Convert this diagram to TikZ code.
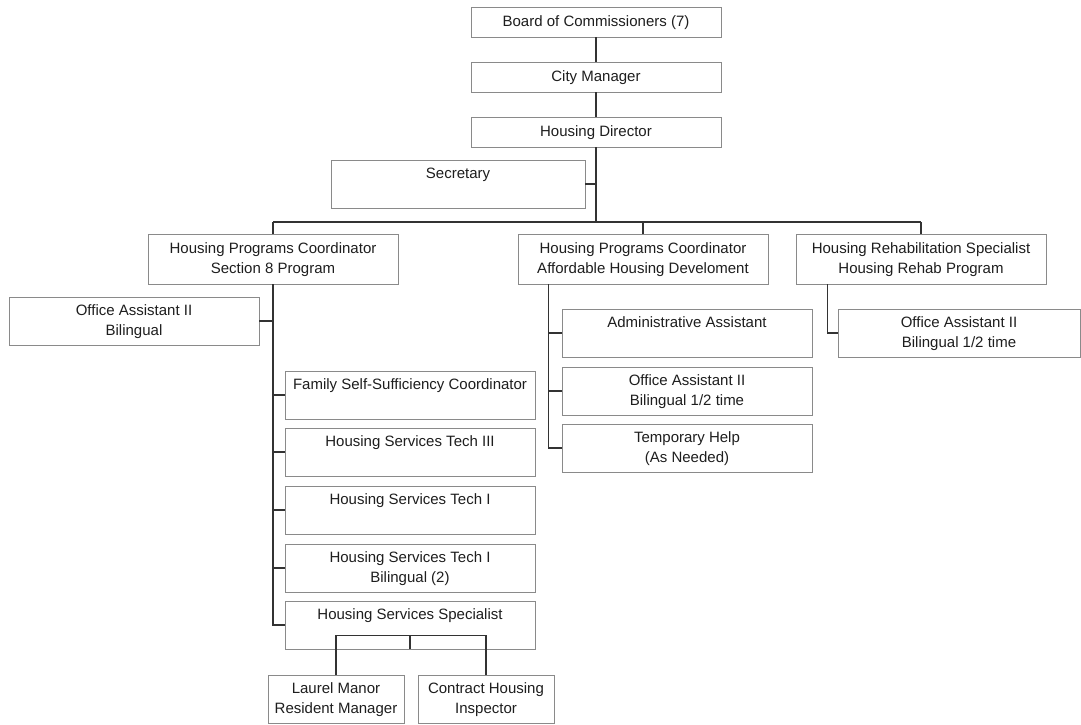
\documentclass[tikz,border=0pt]{standalone}
\usepackage{fontspec}
\setmainfont{Liberation Sans}
\definecolor{boxline}{HTML}{8A8A8A}
\definecolor{conn}{HTML}{333333}
\definecolor{txt}{HTML}{1E1E1E}
\newcommand{\tl}[2]{\strut #1\\\strut #2}
\begin{document}
\begin{tikzpicture}[x=1pt,y=-1pt,
  box/.style={draw=boxline, line width=0.9pt, fill=white, align=center, inner sep=0pt,
    text=txt, font=\fontsize{15}{20}\selectfont, minimum width=#1},
  box/.default=250pt,
  sh/.style={minimum height=30pt},
  th/.style={minimum height=48pt},
  link/.style={draw=conn, line width=1.2pt}]
\useasboundingbox (0,0) rectangle (1081,724);
\fill[white] (0,0) rectangle (1081,724);

% top chain
\node[box=250pt, sh] (board) at (596,22) {\strut Board of Commissioners (7)};
\node[box=250pt, sh] (city) at (596,77) {\strut City Manager};
\node[box=250pt, sh] (dir) at (596,132) {\strut Housing Director};
\node[box=254pt, th] (sec) at (458,184) {\tl{Secretary}{}};

% level 2
\node[box=250pt, minimum height=50pt] (hpc1) at (273,259) {\tl{Housing Programs Coordinator}{Section 8 Program}};
\node[box=250pt, minimum height=50pt] (hpc2) at (643,259) {\tl{Housing Programs Coordinator}{Affordable Housing Develoment}};
\node[box=250pt, minimum height=50pt] (hrs) at (921,259) {\tl{Housing Rehabilitation Specialist}{Housing Rehab Program}};

% section 8 branch
\node[box=250pt, th] (oa1) at (134,321) {\tl{Office Assistant II}{Bilingual}};
\node[box=250pt, th] (fss) at (410,395) {\tl{Family Self-Sufficiency Coordinator}{}};
\node[box=250pt, th] (hst3) at (410,452) {\tl{Housing Services Tech III}{}};
\node[box=250pt, th] (hst1) at (410,510) {\tl{Housing Services Tech I}{}};
\node[box=250pt, th] (hst1b) at (410,568) {\tl{Housing Services Tech I}{Bilingual (2)}};
\node[box=250pt, th] (hss) at (410,625) {\tl{Housing Services Specialist}{}};
\node[box=136pt, th] (laurel) at (336,699) {\tl{Laurel Manor}{Resident Manager}};
\node[box=136pt, th] (contract) at (486,699) {\tl{Contract Housing}{Inspector}};

% affordable housing branch
\node[box=250pt, th] (aa) at (687,333) {\tl{Administrative Assistant}{}};
\node[box=250pt, th] (oa2) at (687,391) {\tl{Office Assistant II}{Bilingual 1/2 time}};
\node[box=250pt, th] (temp) at (687,448) {\tl{Temporary Help}{(As Needed)}};

% rehab branch
\node[box=242pt, th] (oa3) at (959,333) {\tl{Office Assistant II}{Bilingual 1/2 time}};

% connectors: top
\draw[link] (board.south) -- (city.north);
\draw[link] (city.south) -- (dir.north);
\coordinate (bus) at (596,222);
\draw[link] (dir.south) -- (bus);
\draw[link] (sec.east) -- (sec.east -| dir.south);
\draw[link] (bus -| hpc1.north) -- (bus -| hrs.north);
\draw[link] (bus -| hpc1.north) -- (hpc1.north);
\draw[link] (bus -| hpc2.north) -- (hpc2.north);
\draw[link] (bus -| hrs.north) -- (hrs.north);

% section 8 connectors
\draw[link] (hpc1.south) |- (hss.west);
\draw[link] (oa1.east) -- (oa1.east -| hpc1.south);
\draw[link] (fss.west) -- (fss.west -| hpc1.south);
\draw[link] (hst3.west) -- (hst3.west -| hpc1.south);
\draw[link] (hst1.west) -- (hst1.west -| hpc1.south);
\draw[link] (hst1b.west) -- (hst1b.west -| hpc1.south);
\coordinate (hb) at ([yshift=14pt]hss.south);
\draw[link] (hss.south) -- (hb);
\draw[link] (hb -| laurel.north) -- (hb -| contract.north);
\draw[link] (hb -| laurel.north) -- (laurel.north);
\draw[link] (hb -| contract.north) -- (contract.north);

% affordable housing connectors
\coordinate (v2) at ([xshift=31pt]hpc2.south west);
\draw[link] (v2) |- (temp.west);
\draw[link] (aa.west) -- (aa.west -| v2);
\draw[link] (oa2.west) -- (oa2.west -| v2);

% rehab connectors
\coordinate (v3) at ([xshift=32pt]hrs.south west);
\draw[link] (v3) |- (oa3.west);
\end{tikzpicture}
\end{document}
